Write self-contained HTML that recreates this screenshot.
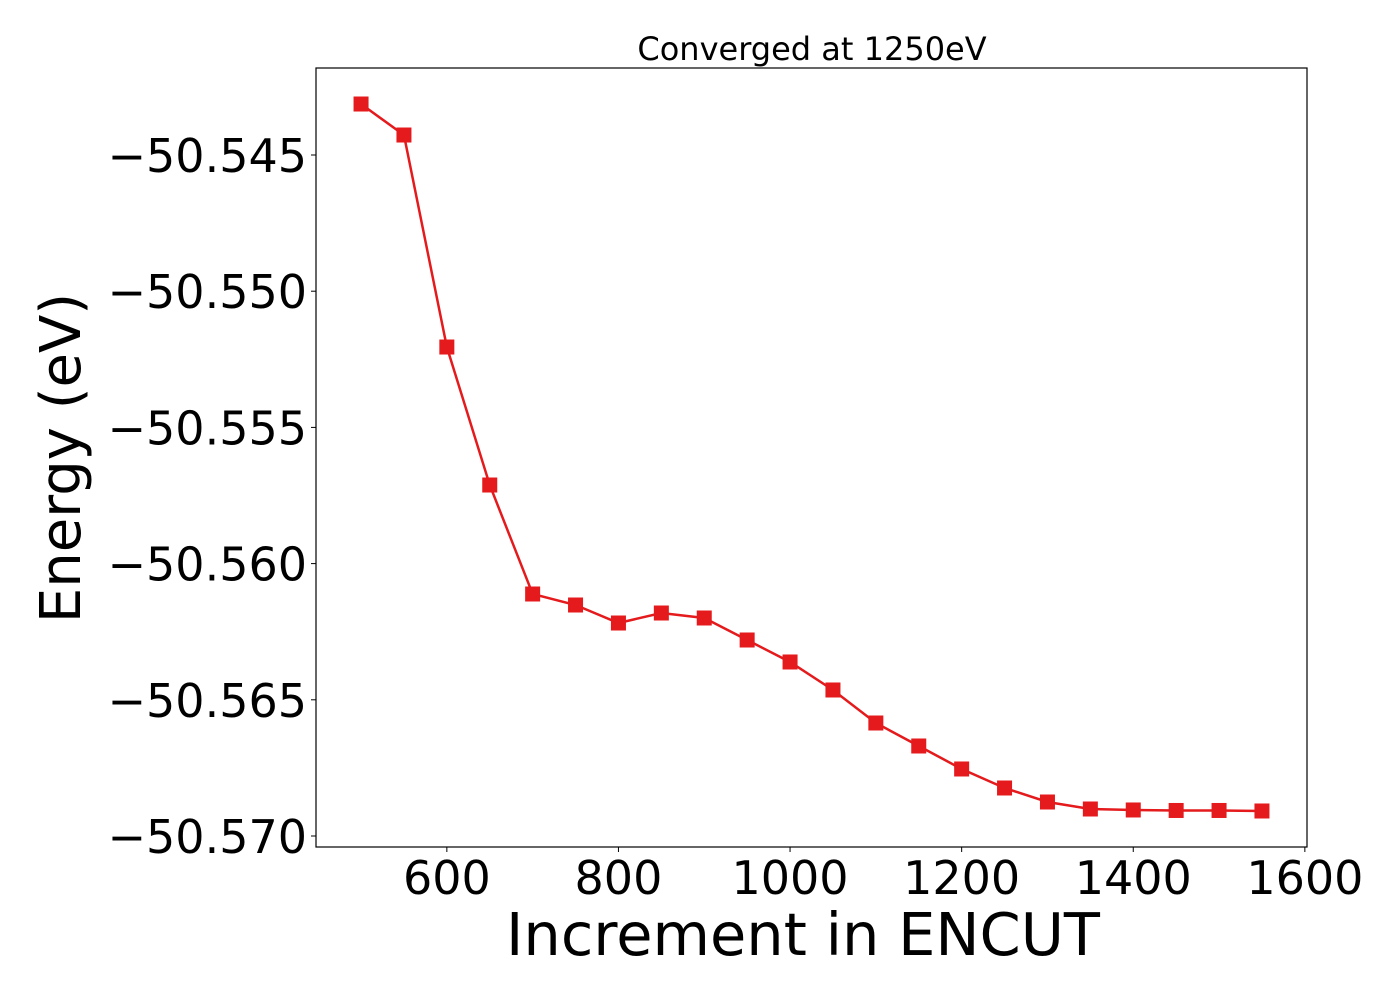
<!DOCTYPE html>
<html><head><meta charset="utf-8"><style>
html,body{margin:0;padding:0;background:#fff;}
svg{display:block;font-family:"DejaVu Sans","Liberation Sans",sans-serif;}
</style></head><body>
<svg id="chart" width="1400" height="1000" viewBox="0 0 1400 1000" xmlns="http://www.w3.org/2000/svg">
<rect width="1400" height="1000" fill="#fff"/>
<text x="812" y="60" font-size="32" text-anchor="middle">Converged at 1250eV</text>
<g id="axes"></g>
<text x="803" y="955" font-size="59" text-anchor="middle">Increment in ENCUT</text>
<text transform="translate(80,458) rotate(-90)" font-size="56" text-anchor="middle">Energy (eV)</text>
</svg>
<script>
const encut = [500,550,600,650,700,750,800,850,900,950,1000,1050,1100,1150,1200,1250,1300,1350,1400,1450,1500,1550];
const energy = [-50.543128,-50.544266,-50.552049,-50.557115,-50.561116,-50.561520,-50.562181,-50.561814,-50.561997,-50.562805,-50.563612,-50.564640,-50.565852,-50.566696,-50.567540,-50.568238,-50.568752,-50.569009,-50.569045,-50.569063,-50.569063,-50.569082];
const xTicks = [600,800,1000,1200,1400,1600];
const yTicks = [-50.545,-50.550,-50.555,-50.560,-50.565,-50.570];
const yTickLabels = ["\u221250.545","\u221250.550","\u221250.555","\u221250.560","\u221250.565","\u221250.570"];

const L=316,R=1307,T=68,B=847;
const xMin=447.5,xMax=1602.5,yMin=-50.570404,yMax=-50.541806;
const xs=v=>L+(v-xMin)/(xMax-xMin)*(R-L);
const ys=v=>B-(v-yMin)/(yMax-yMin)*(B-T);
const NS="http://www.w3.org/2000/svg";
const g=document.getElementById('axes');
function mk(t,a){const e=document.createElementNS(NS,t);for(const k in a)e.setAttribute(k,a[k]);g.appendChild(e);return e;}

xTicks.forEach(v=>{
  const x=xs(v);
  const tk=mk('line',{x1:x,x2:x,y1:B,y2:B+5,stroke:'#000','stroke-width':1});
  
  
  const t=mk('text',{x:x,y:894,'font-size':46,'text-anchor':'middle'});
  
  
  t.textContent=v;
});
yTicks.forEach((v,i)=>{
  const y=ys(v);
  const tk=mk('line',{x1:L-5,x2:L,y1:y,y2:y,stroke:'#000','stroke-width':1});
  
  
  const t=mk('text',{x:L-9,y:y+17,'font-size':46,'text-anchor':'end'});
  
  
  t.textContent=yTickLabels[i];
});
const line=mk('polyline',{points:encut.map((v,i)=>xs(v)+','+ys(energy[i])).join(' '),fill:'none',stroke:'#e41a1c','stroke-width':2.5});


encut.forEach((v,i)=>{
  const m=mk('rect',{x:xs(v)-7.5,y:ys(energy[i])-7.5,width:15,height:15,fill:'#e41a1c'});
  
  
});
const frame=mk('rect',{x:L,y:T,width:R-L,height:B-T,fill:'none',stroke:'#000','stroke-width':1.2});


</script>
</body></html>
